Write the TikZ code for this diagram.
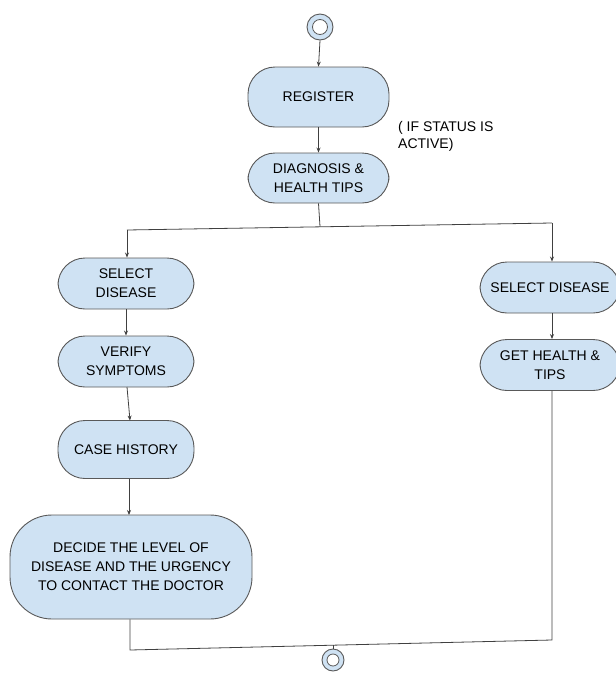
\documentclass[tikz,border=0pt]{standalone}
\usepackage{fontspec}
\setmainfont{Liberation Sans}
\usetikzlibrary{arrows.meta}
\definecolor{boxfill}{HTML}{CFE2F3}
\definecolor{boxline}{HTML}{595959}
\definecolor{wire}{HTML}{404040}
\tikzset{
  activity/.style={draw=boxline, fill=boxfill, line width=0.9pt,
    rounded corners=27pt, align=center, inner sep=0pt,
    font=\fontsize{14}{19}\selectfont},
  flow/.style={draw=wire, line width=0.8pt, -{Stealth[length=5pt,width=4pt]}},
  wireline/.style={draw=wire, line width=0.8pt},
  endpoint/.style={circle, draw=boxline, fill=boxfill, line width=0.9pt, inner sep=0pt},
  hole/.style={circle, draw=boxline, fill=white, line width=0.8pt, inner sep=0pt},
}
\begin{document}
\begin{tikzpicture}[x=1pt,y=-1pt]
\useasboundingbox (0,0) rectangle (616,675);

% start marker
\node[endpoint, minimum size=26pt] (start) at (320,27) {};
\node[hole, minimum size=15pt] (startin) at (320,27) {};

% main column
\node[activity, minimum width=141pt, minimum height=60pt] (register) at (318.5,97) {REGISTER};
\node[activity, minimum width=141pt, minimum height=50pt] (diag) at (318.5,178) {DIAGNOSIS \&\\HEALTH TIPS};
\node[anchor=north west, align=left, font=\fontsize{14}{17}\selectfont, inner sep=0pt] (cond) at (398,121) {( IF STATUS IS\\ACTIVE)};

% left branch
\node[activity, minimum width=136pt, minimum height=51pt] (selL) at (126,283.5) {SELECT\\DISEASE};
\node[activity, minimum width=136pt, minimum height=51pt] (verify) at (126,361.5) {VERIFY\\SYMPTOMS};
\node[activity, minimum width=136pt, minimum height=58pt] (cases) at (126,449.5) {CASE HISTORY};
\node[activity, rounded corners=42pt, minimum width=242pt, minimum height=104pt] (decide) at (131,567) {DECIDE THE LEVEL OF\\DISEASE AND THE URGENCY\\TO CONTACT THE DOCTOR};

% right branch
\node[activity, minimum width=140pt, minimum height=51pt] (selR) at (550,287.5) {SELECT DISEASE};
\node[activity, minimum width=140pt, minimum height=51pt] (tips) at (550,365) {GET HEALTH \&\\TIPS};

% end marker
\node[endpoint, minimum size=22pt] (finish) at (333,660) {};
\node[hole, minimum size=12pt] (finishin) at (333,660) {};

% fork and join bars
\coordinate (forkL) at (127,230);
\coordinate (forkM) at (320,226.5);
\coordinate (forkR) at (552,223);
\coordinate (joinL) at (130,650);
\coordinate (joinM) at (333,645);
\coordinate (joinR) at (552,640);

% connectors
\draw[flow] (start.south) -- (register.north);
\draw[flow] (register.south) -- (diag.north);
\draw[wireline] (diag.south) -- (forkM);
\draw[wireline] (forkL) -- (forkR);
\draw[flow] (forkL) -- (forkL |- selL.north);
\draw[flow] (forkR) -- (forkR |- selR.north);
\draw[flow] (selL.south) -- (verify.north);
\draw[flow] (127,387) -- (130,420.5);
\draw[flow] (129,478.5) -- (129,515);
\draw[flow] (selR.south -| forkR) -- (forkR |- tips.north);
\draw[wireline] (joinL |- decide.south) -- (joinL) -- (joinR) -- (joinR |- tips.south);
\draw[wireline] (joinM) -- (finish.north);
\end{tikzpicture}
\end{document}
